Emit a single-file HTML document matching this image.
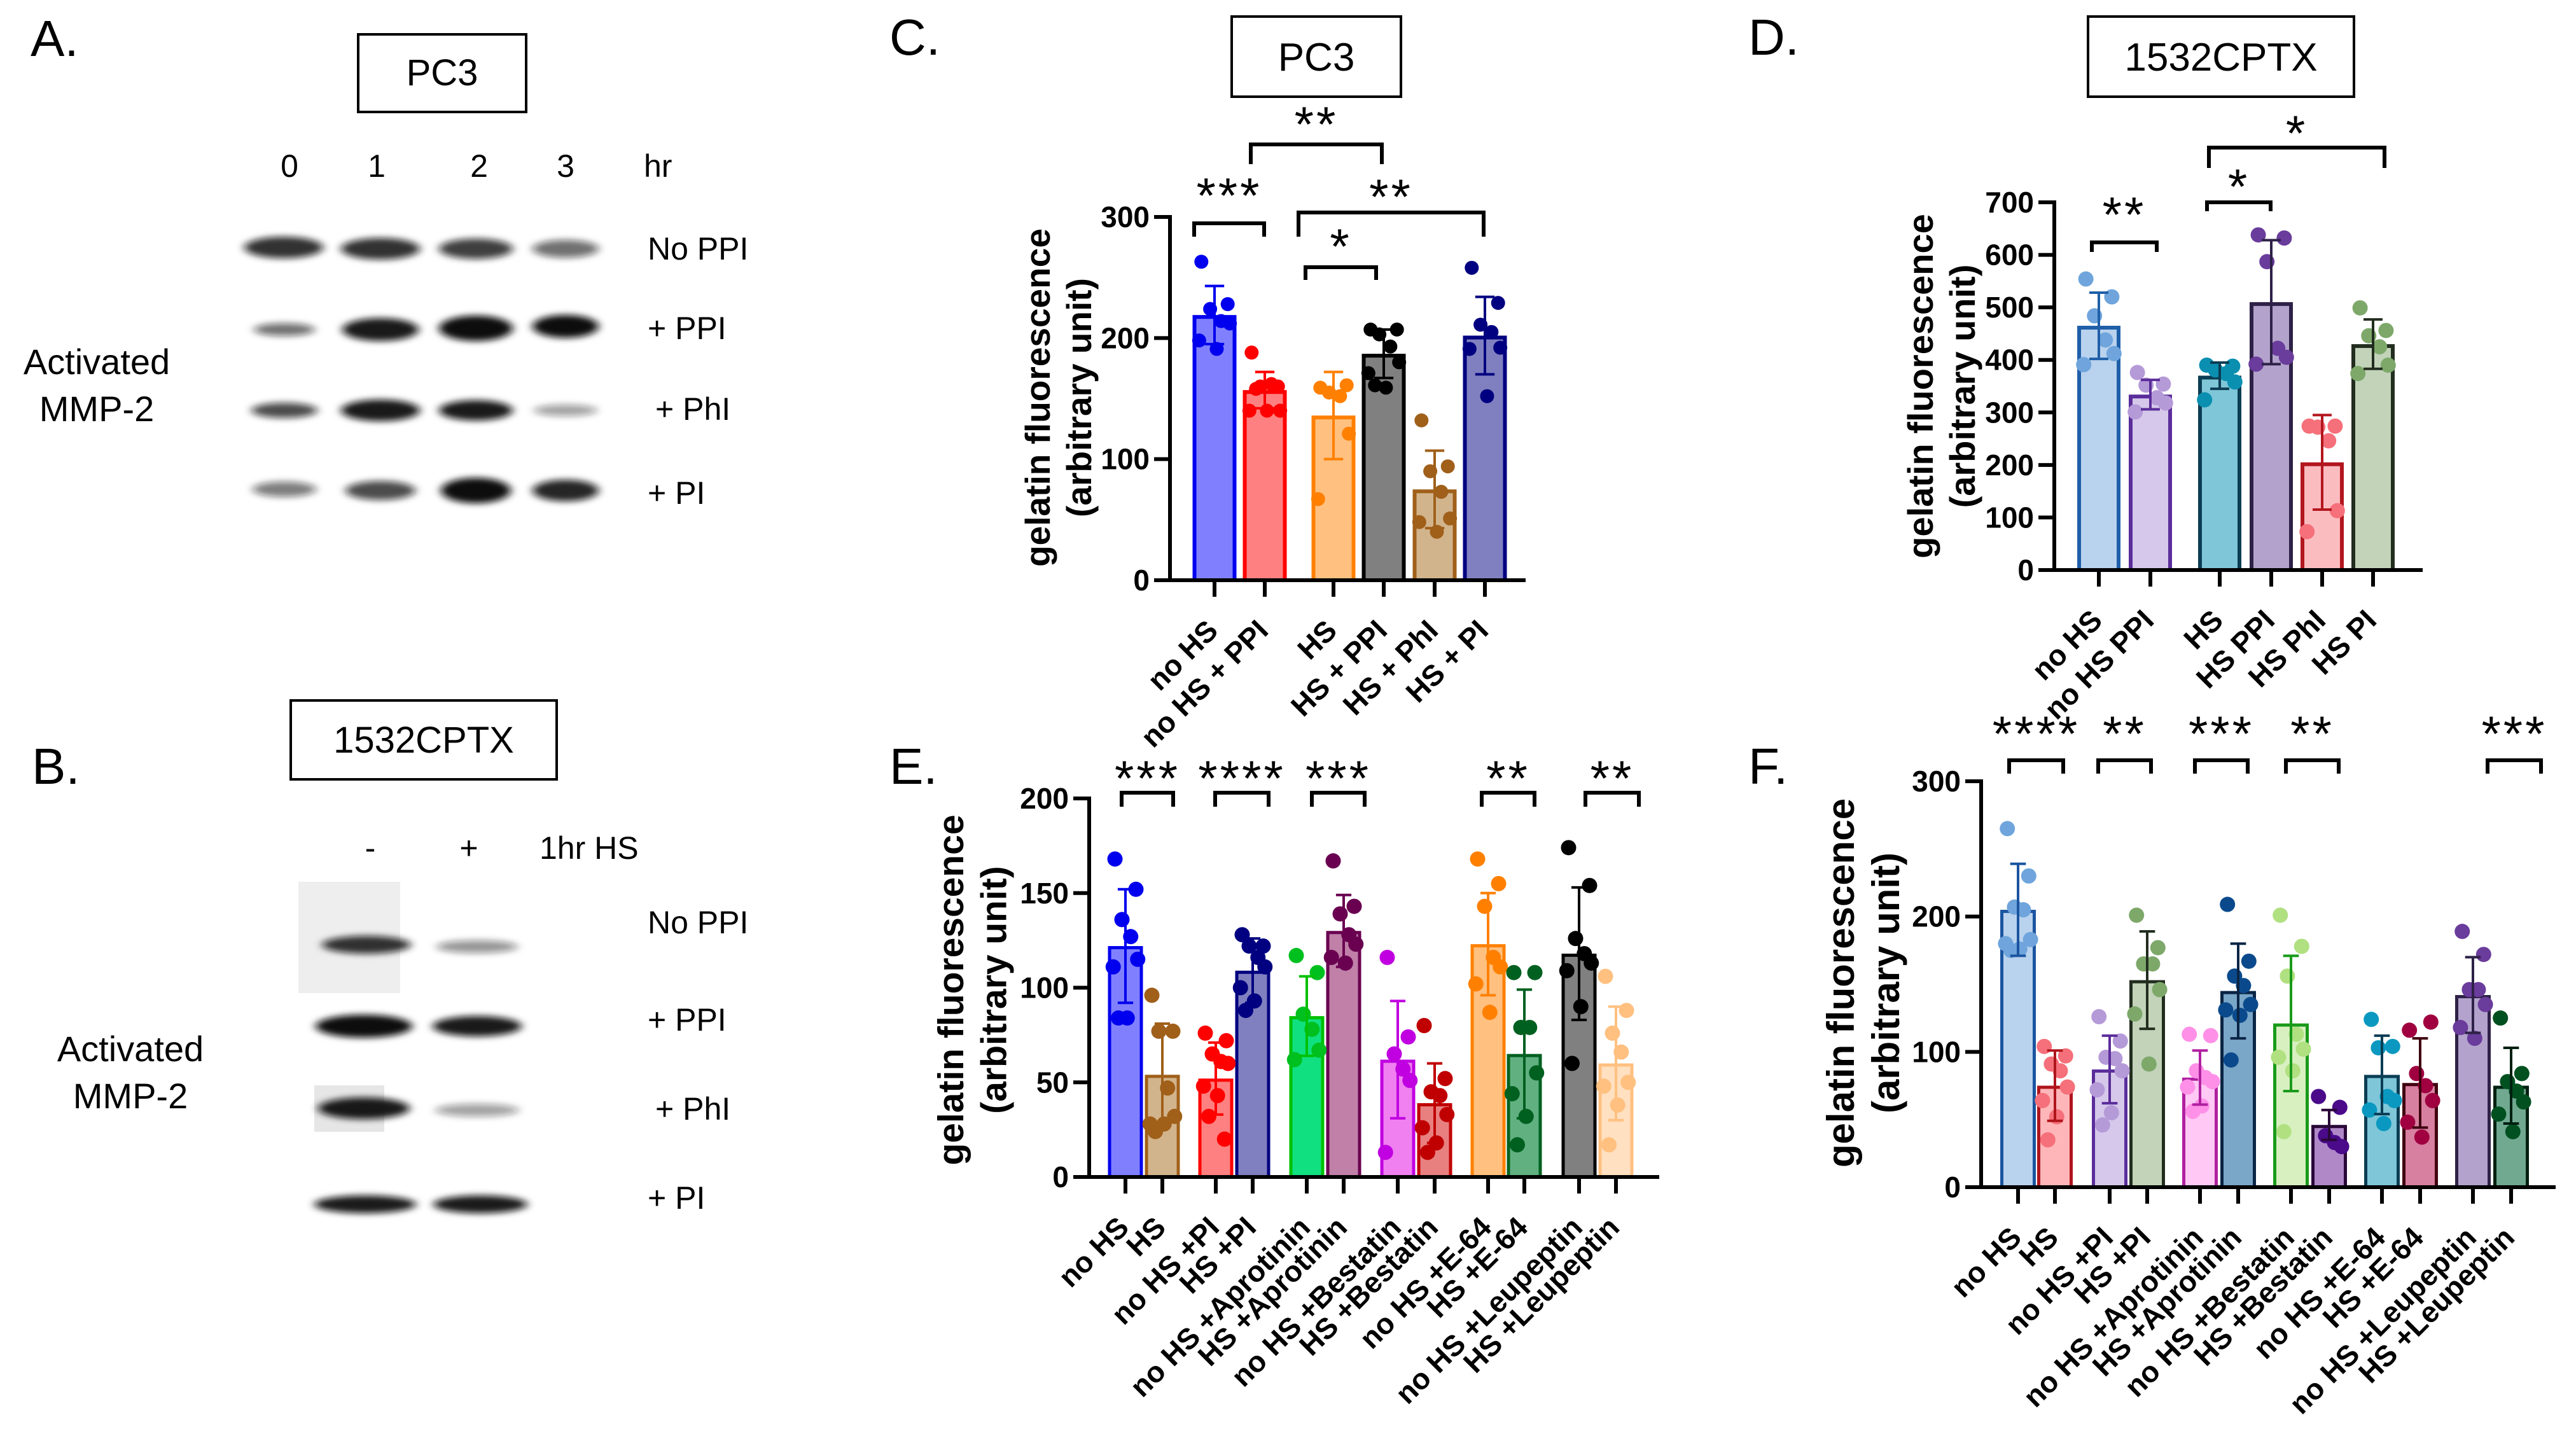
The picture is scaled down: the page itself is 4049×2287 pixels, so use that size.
<!DOCTYPE html>
<html><head><meta charset="utf-8">
<style>
html,body{margin:0;padding:0;background:#fff;}
svg{display:block;}
text{font-family:"Liberation Sans",Arial,sans-serif;}
</style></head>
<body>
<svg id="fig" xmlns="http://www.w3.org/2000/svg" width="4049" height="2287" viewBox="0 0 4049 2287">
<defs>
<filter id="blur" x="-20%" y="-80%" width="140%" height="260%"><feGaussianBlur stdDeviation="7 5"/></filter>
</defs>
<rect width="4049" height="2287" fill="#fff"/>

<!-- Panel A -->
<g>
<text x="48" y="88" font-size="80">A.</text>
<rect x="563" y="54" width="264" height="122" fill="none" stroke="#000" stroke-width="4"/>
<text x="695" y="134" font-size="58" text-anchor="middle">PC3</text>
<text x="455" y="278" font-size="50" text-anchor="middle">0</text>
<text x="592" y="278" font-size="50" text-anchor="middle">1</text>
<text x="753" y="278" font-size="50" text-anchor="middle">2</text>
<text x="889" y="278" font-size="50" text-anchor="middle">3</text>
<text x="1012" y="278" font-size="50">hr</text>
<g id="blotA"></g>
<text x="1018" y="408" font-size="50">No PPI</text>
<text x="1018" y="533" font-size="50">+ PPI</text>
<text x="1030" y="660" font-size="50">+ PhI</text>
<text x="1018" y="792" font-size="50">+ PI</text>
<text x="152" y="588" font-size="56" text-anchor="middle">Activated</text>
<text x="152" y="662" font-size="56" text-anchor="middle">MMP-2</text>
</g>

<!-- Panel B -->
<g>
<text x="50" y="1232" font-size="80">B.</text>
<rect x="457" y="1101" width="418" height="124" fill="none" stroke="#000" stroke-width="4"/>
<text x="666" y="1183" font-size="58" text-anchor="middle">1532CPTX</text>
<text x="582" y="1350" font-size="50" text-anchor="middle">-</text>
<text x="737" y="1350" font-size="50" text-anchor="middle">+</text>
<text x="848" y="1350" font-size="50">1hr HS</text>
<rect x="469" y="1386" width="160" height="175" fill="#eeeeee"/>
<rect x="494" y="1706" width="110" height="73" fill="#e6e6e6"/>
<g id="blotB"></g>
<text x="1018" y="1467" font-size="50">No PPI</text>
<text x="1018" y="1620" font-size="50">+ PPI</text>
<text x="1030" y="1760" font-size="50">+ PhI</text>
<text x="1018" y="1900" font-size="50">+ PI</text>
<text x="205" y="1668" font-size="56" text-anchor="middle">Activated</text>
<text x="205" y="1742" font-size="56" text-anchor="middle">MMP-2</text>
</g>

<text x="1398" y="86" font-size="80">C.</text>
<rect x="1936" y="26" width="266" height="126" fill="none" stroke="#000" stroke-width="4"/>
<text x="2069" y="111" font-size="62" text-anchor="middle">PC3</text>
<text x="2748" y="86" font-size="80">D.</text>
<rect x="3282" y="26" width="418" height="126" fill="none" stroke="#000" stroke-width="4"/>
<text x="3491" y="111" font-size="62" text-anchor="middle">1532CPTX</text>
<text x="1398" y="1232" font-size="80">E.</text>
<text x="2748" y="1232" font-size="80">F.</text>
<g id="charts"></g>
</svg>
<script>
// ---------- Panel C data ----------
const cCats = ["no HS","no HS + PPI","HS","HS + PPI","HS + PhI","HS + PI"];
const cMeans = [219,157,136,187,75,202];
const cErrs = [24,15,36,20,32,32];
const cPts = [[263,228,224,214,212,198,191],[188,160,160,162,140,140,140,158],[159,161,155,152,121,67],[207,207,203,193,180,171,159,161],[132,94,90,73,51,48,40],[258,229,211,205,192,191,152]];
const cTicks = [0,100,200,300];
// ---------- Panel D data ----------
const dCats = ["no HS","no HS PPI","HS","HS PPI","HS PhI","HS PI"];
const dMeans = [465,334,370,510,205,430];
const dErrs = [63,28,25,118,90,47];
const dPts = [[554,520,484,438,412,391],[376,354,352,328,318,301],[390,388,381,374,358,324],[638,632,587,422,405,392],[274,274,272,246,113,73],[499,456,446,425,390,374]];
const dTicks = [0,100,200,300,400,500,600,700];
// ---------- Panel E data ----------
const eCats = ["no HS","HS","no HS +PI","HS +PI","no HS +Aprotinin","HS +Aprotinin","no HS +Bestatin","HS +Bestatin","no HS +E-64","HS +E-64","no HS +Leupeptin","HS +Leupeptin"];
const eMeans = [122,54,52,109,85,130,62,39,123,65,118,60];
const eErrs = [30,27,19,17,21,19,31,21,27,34,35,30];
const ePts = [[168,152,136,127,115,111,84,84],[96,77,77,47,32,28,28,24],[76,72,65,61,60,48,43,32,20],[128,122,122,116,111,100,93,88],[117,108,86,78,67,62],[167,143,139,128,123,116,113],[116,74,65,57,51,13],[80,52,45,43,33,26,18,13],[168,155,143,116,111,102,87],[108,108,79,79,55,44,32,17],[174,154,126,118,113,109,90,60],[106,88,76,66,50,48,38,17]];
const eTicks = [0,50,100,150,200];
// ---------- Panel F data ----------
const fCats = eCats;
const fMeans = [205,75,87,153,81,145,121,46,83,77,142,75];
const fErrs = [34,26,25,36,20,35,50,11,29,33,28,28];
const fPts = [[265,230,207,205,183,180,176,175],[104,97,91,86,74,64,52,35],[126,108,96,95,86,72,55,46],[201,177,165,165,146,128,91],[113,112,86,81,78,74,60,56],[209,167,156,149,135,131,127,94],[201,178,156,113,102,96,86,41],[67,59,38,33,30],[124,104,103,67,64,57,47],[116,122,84,75,64,48,37],[189,172,146,146,135,118,110],[125,84,78,71,63,54,41]];
const fTicks = [0,100,200,300];

// styles (not data)
const cStyle = [["#8080ff","#0000ee","#0000ee"],["#ff8080","#ff0000","#ff0000"],["#ffc080","#ff8000","#ff8000"],["#808080","#000000","#000000"],["#d2b48c","#a0601a","#a0601a"],["#8080c0","#000080","#000080"]];
const dStyle = [["#b9d2ed","#1f5fa8","#6fa5dc"],["#d5c8ea","#5b2d9a","#b59ad8"],["#7ec6d8","#0b3d54","#0a8fb0"],["#b3a3cc","#2e2147","#6a3c9c"],["#fbbcc0","#b3161e","#f5707a"],["#c2d3b9","#222d1f","#7da86a"]];
const eStyle = [["#8080ff","#0000ee","#0000ee"],["#d2b48c","#a0601a","#a0601a"],["#ff8080","#ff0000","#ff0000"],["#8080c0","#000080","#000080"],["#10e080","#00c000","#00c020"],["#c080a8","#6a0050","#6a0050"],["#f080f0","#c000e0","#c000e0"],["#e88080","#c00000","#c00000"],["#ffc080","#ff8000","#ff8000"],["#60b080","#006020","#006020"],["#808080","#000000","#000000"],["#ffe0c0","#ffc080","#ffc080"]];
const fStyle = [["#b9d2ed","#1b55a0","#6fa5dc"],["#ffb6b9","#b0151c","#f5707a"],["#d5c8ea","#5b2d9a","#b59ad8"],["#c2d3b9","#222d1f","#7da86a"],["#ffc8f5","#b020a0","#ff90e8"],["#7aa6c8","#0a2545","#0a4a8c"],["#d8f0c0","#1a9a1a","#b0e080"],["#b088c8","#2a0838","#4a0a8a"],["#7ec6d8","#0b3d54","#0a98c0"],["#d880a0","#400010","#a00040"],["#b3a3cc","#2e2147","#6a3c9c"],["#70a890","#002010","#005020"]];

const NS = "http://www.w3.org/2000/svg";
function mk(parent, tag, attrs){ const e=document.createElementNS(NS,tag); for(const k in attrs) e.setAttribute(k,attrs[k]); parent.appendChild(e); return e; }
const jit = [-0.3,0.3,-0.1,0.15,0.35,-0.35,0.05,-0.2,0.25];

function chart(cfg){
  const root = document.getElementById('charts');
  const g = mk(root,'g',{});
  
  
  const ys = v => cfg.y0 - (v - 0) / cfg.max * (cfg.y0 - cfg.yTop);
  // bars
  cfg.xs.forEach((cx,i)=>{
    const st = cfg.style[i], w = cfg.bw, sw = cfg.sw;
    const r = mk(g,'rect',{x:cx-w/2+sw/2, y:ys(cfg.means[i])+sw/2, width:w-sw, height:Math.max(0,cfg.y0-ys(cfg.means[i])-sw/2), fill:st[0], stroke:st[1], 'stroke-width':sw});
    
    
  });
  // points
  cfg.xs.forEach((cx,i)=>{
    const st = cfg.style[i];
    cfg.pts[i].forEach((v,j)=>{
      const c = mk(g,'circle',{cx:cx + jit[j%jit.length]*cfg.bw, cy:ys(v), r:cfg.dr, fill:st[2]});
      
      
    });
  });
  // error bars
  cfg.xs.forEach((cx,i)=>{
    const st = cfg.style[i], m=cfg.means[i], e=cfg.errs[i], cw=cfg.bw*0.22;
    const eg = mk(g,'g',{stroke:st[1],'stroke-width':4,fill:'none'});
    
    
    mk(eg,'line',{x1:cx,x2:cx,y1:ys(m-e),y2:ys(m+e)});
    mk(eg,'line',{x1:cx-cw,x2:cx+cw,y1:ys(m+e),y2:ys(m+e)});
    mk(eg,'line',{x1:cx-cw,x2:cx+cw,y1:ys(m-e),y2:ys(m-e)});
  });
  // axes
  const ax = mk(g,'g',{stroke:'#000','stroke-width':6,fill:'none'});
  
  
  mk(ax,'line',{x1:cfg.ax,x2:cfg.ax,y1:cfg.yTop-3,y2:cfg.y0+3});
  mk(ax,'line',{x1:cfg.ax-25,x2:cfg.xEnd,y1:cfg.y0,y2:cfg.y0});
  cfg.ticks.forEach(t=>{
    mk(ax,'line',{x1:cfg.ax-25,x2:cfg.ax,y1:ys(t),y2:ys(t)});
    const tx = mk(g,'text',{x:cfg.ax-32,y:ys(t)+16,'font-size':46,'font-weight':'bold','text-anchor':'end'});
    tx.textContent = t;
    
    
  });
  cfg.xs.forEach((cx,i)=>{
    mk(ax,'line',{x1:cx,x2:cx,y1:cfg.y0,y2:cfg.y0+26});
    const lx = cx+8, ly = cfg.y0+82;
    const tx = mk(g,'text',{x:lx,y:ly,'font-size':cfg.lf,'font-weight':'bold','text-anchor':'end',transform:`rotate(-45 ${lx} ${ly})`});
    tx.textContent = cfg.cats[i];
    
    
  });
  // y title
  const yt = mk(g,'text',{'font-size':cfg.tf,'font-weight':'bold','text-anchor':'middle',transform:`translate(${cfg.tx} ${cfg.ty}) rotate(-90)`});
  
  
  const t1 = mk(yt,'tspan',{x:0,y:0}); t1.textContent='gelatin fluorescence';
  const t2 = mk(yt,'tspan',{x:0,y:cfg.tf*1.18}); t2.textContent='(arbitrary unit)';
  // brackets
  cfg.br.forEach(b=>{
    const bg = mk(g,'g',{});
    
    
    mk(bg,'path',{d:`M${b[0]} ${b[3]} L${b[0]} ${b[2]} L${b[1]} ${b[2]} L${b[1]} ${b[3]}`,fill:'none',stroke:'#000','stroke-width':6});
    const s = mk(bg,'text',{x:(b[0]+b[1])/2,y:b[5],'font-size':78,'text-anchor':'middle','letter-spacing':4});
    s.textContent = b[4];
  });
}

chart({name:'chart-c',cats:cCats,means:cMeans,errs:cErrs,pts:cPts,ticks:cTicks,style:cStyle,max:300,
  ax:1839,y0:912,yTop:341,xEnd:2398,xs:[1909,1988,2096,2175,2255,2334],bw:69,sw:6,dr:11,lf:46,tf:55,tx:1650,ty:625,
  br:[[1877,1987,351,372,'***',334],[1966,2172,227,258,'**',222],[2041,2332,334,372,'**',336],[2052,2163,420,440,'*',414]]});
chart({name:'chart-d',cats:dCats,means:dMeans,errs:dErrs,pts:dPts,ticks:dTicks,style:dStyle,max:700,
  ax:3229,y0:896,yTop:318,xEnd:3808,xs:[3299,3380,3489,3570,3650,3730],bw:68,sw:6,dr:12,lf:46,tf:56,tx:3038,ty:607,
  br:[[3288,3390,381,396,'**',364],[3469,3569,318,332,'*',320],[3472,3748,232,264,'*',236]]});
chart({name:'chart-e',cats:eCats,means:eMeans,errs:eErrs,pts:ePts,ticks:eTicks,style:eStyle,max:200,
  ax:1712,y0:1850,yTop:1255,xEnd:2608,xs:[1769,1827,1911,1969,2054,2112,2197,2255,2339,2396,2482,2540],bw:55,sw:5,dr:12,lf:46,tf:57,tx:1514,ty:1556,
  br:[[1763,1844,1246,1268,'***',1250],[1910,1994,1246,1268,'****',1250],[2062,2145,1246,1268,'***',1250],[2329,2412,1246,1268,'**',1250],[2492,2576,1246,1268,'**',1250]]});
chart({name:'chart-f',cats:fCats,means:fMeans,errs:fErrs,pts:fPts,ticks:fTicks,style:fStyle,max:300,
  ax:3114,y0:1866,yTop:1228,xEnd:4017,xs:[3172,3230,3316,3375,3458,3518,3601,3661,3744,3804,3887,3947],bw:56,sw:5,dr:12,lf:46,tf:60,tx:2914,ty:1545,
  br:[[3158,3243,1195,1216,'****',1180],[3298,3381,1195,1216,'**',1180],[3450,3533,1195,1216,'***',1180],[3593,3676,1195,1216,'**',1180],[3910,3994,1195,1216,'***',1180]]});

// blots
function blot(id, rows){
  const p = document.getElementById(id);
  rows.forEach(r=>{
    const e = mk(p,'ellipse',{cx:r[0],cy:r[1],rx:r[2],ry:r[3],fill:'#111','fill-opacity':r[4],filter:'url(#blur)'});
    
    
  });
}
blot('blotA',[
 [446,389,62,17,0.85],[598,391,62,17,0.85],[748,391,58,16,0.8],[889,391,52,14,0.6],
 [447,518,48,10,0.6],[598,518,60,18,0.95],[748,516,58,20,1],[889,513,52,18,1],
 [447,645,52,12,0.75],[598,645,62,17,0.95],[748,645,58,16,0.95],[889,645,50,9,0.4],
 [447,769,50,12,0.55],[598,771,55,15,0.75],[748,771,55,20,1],[889,771,52,17,0.9]]);
blot('blotB',[
 [576,1485,70,14,0.85],[750,1488,64,10,0.45],
 [572,1613,76,18,1],[750,1613,70,16,0.95],
 [572,1742,72,17,0.95],[750,1745,66,10,0.4],
 [574,1893,80,14,0.95],[755,1893,74,14,0.95]]);
</script>
</body></html>
